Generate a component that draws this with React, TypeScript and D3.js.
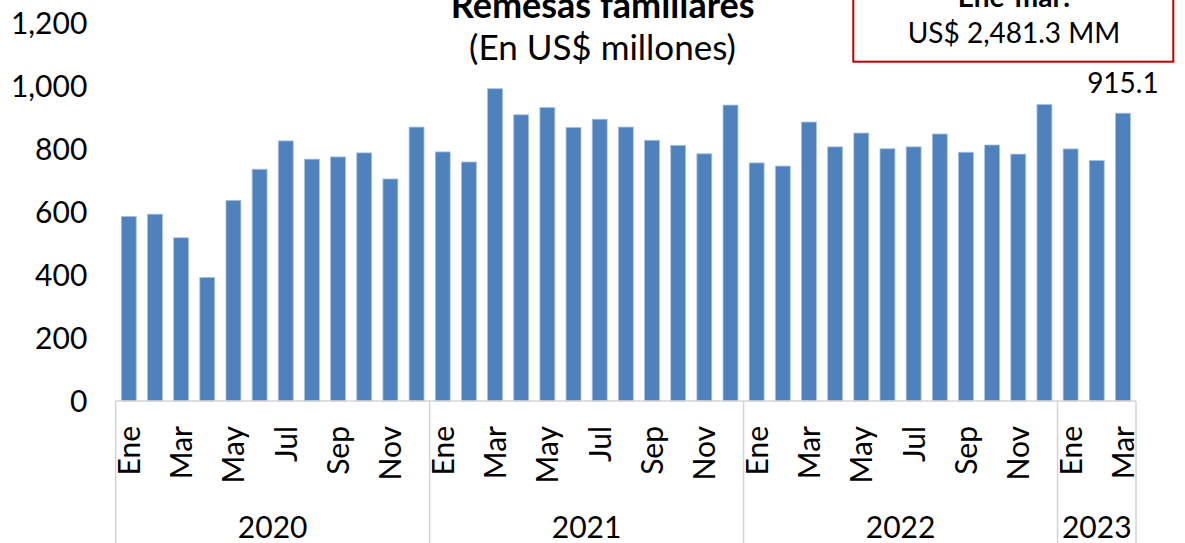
import React from "react";
import * as d3 from "d3";

const values2020 = [587, 594, 519, 393, 638, 737, 827, 769, 776, 789, 706, 871];
const values2021 = [792, 760, 993, 910, 933, 870, 896, 871, 829, 813, 786, 941];
const values2022 = [757, 747, 887, 808, 852, 802, 808, 849, 791, 814, 785, 943];
const values2023 = [801.5, 764.7, 915.1];
const years = ["2020", "2021", "2022", "2023"];
const monthNames = ["Ene", "Feb", "Mar", "Abr", "May", "Jun", "Jul", "Ago", "Sep", "Oct", "Nov", "Dic"];
const yTicks = [0, 200, 400, 600, 800, 1000, 1200];
const titleText = "Remesas familiares";
const subtitleText = "(En US$ millones)";
const boxTitle = "Ene-mar:";
const boxValue = "US$ 2,481.3 MM";
const lastLabel = "915.1";

const W = 1185;
const H = 543;
const FONT = "Lato, 'Open Sans', sans-serif";

type Datum = { year: string; month: string; mi: number; value: number };

const series: number[][] = [values2020, values2021, values2022, values2023];
const data: Datum[] = [];
series.forEach((vals, yi) => {
  vals.forEach((v, mi) => data.push({ year: years[yi], month: monthNames[mi], mi, value: v }));
});

export default function App() {
  const x0 = 115.7;
  const x1 = 1136;
  const baseY = 401;
  const x = d3
    .scaleBand<number>()
    .domain(data.map((_, i) => i))
    .range([x0, x1])
    .paddingInner(0.43)
    .paddingOuter(0.215);
  const y = d3.scaleLinear().domain([0, 1200]).range([baseY, 23.6]);
  const step = x.step();
  const fmt = d3.format(",");

  // group boundaries
  const groups: { year: string; start: number; end: number }[] = [];
  let idx = 0;
  series.forEach((vals, yi) => {
    const s = x0 + x.paddingOuter() * step + idx * step - x.paddingOuter() * step;
    groups.push({ year: years[yi], start: x0 + idx * step, end: x0 + (idx + vals.length) * step });
    idx += vals.length;
    void s;
  });

  const lineColor = "#d4d4d4";
  const last = data[data.length - 1];

  return (
    <svg width={W} height={H} style={{ position: "absolute", left: 0, top: 0, background: "#fff" }} fontFamily={FONT}>
      <rect x={0} y={0} width={W} height={H} fill="#ffffff" />
      {/* y tick labels */}
      {yTicks.map((t) => (
        <text key={t} x={87.3} y={y(t)} dy="0.36em" textAnchor="end" fontSize={30} fill="#000">
          {fmt(t)}
        </text>
      ))}
      {/* bars */}
      {data.map((d, i) => (
        <rect
          key={i}
          x={x(i)}
          y={y(d.value)}
          width={x.bandwidth()}
          height={baseY - y(d.value)}
          fill="#4f81bd"
          stroke="#a9c1e0"
          strokeWidth={0.8}
        />
      ))}
      {/* category table lines */}
      <line x1={x0} x2={x1} y1={baseY} y2={baseY} stroke={lineColor} strokeWidth={1.5} />
      {groups.map((g, gi) => (
        <g key={g.year}>
          {gi === 0 && <line x1={g.start} x2={g.start} y1={baseY} y2={H} stroke={lineColor} strokeWidth={1.5} />}
          <line x1={g.end} x2={g.end} y1={baseY} y2={H} stroke={lineColor} strokeWidth={1.5} />
          <text x={(g.start + g.end) / 2} y={538} textAnchor="middle" fontSize={30} fill="#000">
            {g.year}
          </text>
        </g>
      ))}
      {/* month labels */}
      {data.map((d, i) =>
        d.mi % 2 === 0 ? (
          <text
            key={"m" + i}
            transform={`translate(${(x(i) as number) + x.bandwidth() / 2},426) rotate(-90)`}
            x={0}
            y={11}
            textAnchor="end"
            fontSize={30}
            fill="#000"
          >
            {d.month}
          </text>
        ) : null
      )}
      {/* last value label */}
      <text
        x={(x(data.length - 1) as number) + x.bandwidth() / 2}
        y={y(last.value) - 20}
        textAnchor="middle"
        fontSize={28}
        fill="#000"
      >
        {lastLabel}
      </text>
      {/* title */}
      <text x={602.7} y={18} textAnchor="middle" fontSize={36} fontWeight="bold" fill="#000">
        {titleText}
      </text>
      <text x={602.5} y={60} textAnchor="middle" fontSize={35} fill="#000">
        {subtitleText}
      </text>
      {/* box */}
      <rect x={853.3} y={-20} width={320} height={81.7} fill="#fff" stroke="#c00000" strokeWidth={2} />
      <text x={1014} y={7} textAnchor="middle" fontSize={28} fontWeight="bold" fill="#000">
        {boxTitle}
      </text>
      <text x={1014} y={43.3} textAnchor="middle" fontSize={28} fill="#000">
        {boxValue}
      </text>
    </svg>
  );
}
